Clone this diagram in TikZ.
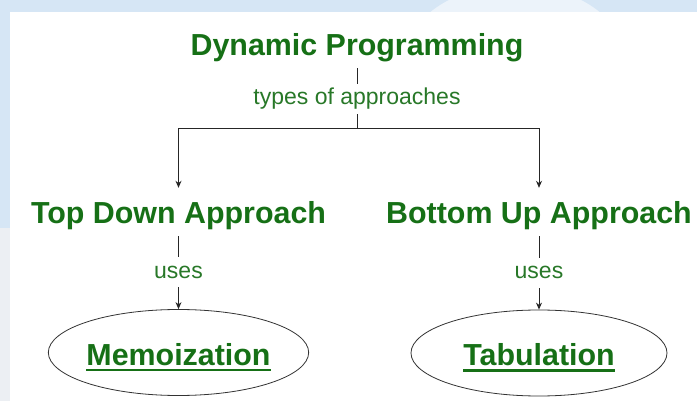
\documentclass[tikz,border=0pt]{standalone}
\usepackage{fontspec}
\setmainfont{Liberation Sans}
\usetikzlibrary{arrows.meta,shapes.geometric}
\definecolor{dpgreen}{RGB}{22,112,22}
\definecolor{lblgreen}{RGB}{40,120,40}
\definecolor{bgblue}{RGB}{214,230,245}
\definecolor{bggray}{RGB}{236,239,243}
\definecolor{bgblob}{RGB}{236,243,250}
\newcommand{\ulbox}[1]{\leavevmode\setbox0\hbox{#1}\rlap{\rule[-6pt]{\wd0}{2.2pt}}\box0}
\begin{document}
\begin{tikzpicture}[x=1pt,y=-1pt,
  heading/.style={font=\fontsize{30.4}{36}\selectfont\bfseries, text=dpgreen, text height=22pt, text depth=6pt, inner xsep=0pt, inner ysep=6pt, anchor=base},
  edgelabel/.style={font=\fontsize{23}{28}\selectfont, text=lblgreen, text height=17pt, text depth=5pt, inner xsep=0pt, inner ysep=4pt, anchor=base},
  method/.style={ellipse, draw=black!80, line width=0.8pt, minimum width=256pt, minimum height=86pt, font=\fontsize{30.4}{36}\selectfont\bfseries, text=dpgreen, text height=30pt, text depth=5pt, inner sep=0pt},
  conn/.style={draw=black!85, line width=0.9pt},
  arr/.style={conn, -{Stealth[length=7pt,width=6pt]}}
]
\useasboundingbox (0,0) rectangle (697,401);
% background
\fill[bgblue] (0,0) rectangle (697,401);
\fill[bgblob] (515,60) ellipse (110 and 75);
\fill[bggray] (0,228) rectangle (10,401);
\fill[white] (10,12) rectangle (697,401);
% nodes
\node[heading] (dp) at (357,56) {Dynamic Programming};
\node[edgelabel] (types) at (357,105) {types of approaches};
\coordinate (br) at (357,128);
\node[heading] (td) at (178.5,224) {Top Down Approach};
\node[heading] (bu) at (539,224) {Bottom Up Approach};
\node[edgelabel] (tduses) at (178.5,278) {uses};
\node[edgelabel] (buuses) at (539,279) {uses};
\node[method] (memo) at (178.5,352.5) {\ulbox{Memoization}};
\node[method] (tab) at (539,353) {\ulbox{Tabulation}};
% connectors
\draw[conn] (dp) -- (types);
\draw[conn] (types) -- (br);
\draw[arr, shorten >=8pt] (br) -| (td.north);
\draw[arr, shorten >=8pt] (br) -| (bu.north);
\draw[conn] (td) -- (tduses);
\draw[arr] (tduses) -- (memo);
\draw[conn] (bu) -- (buuses);
\draw[arr] (buuses) -- (tab);
\end{tikzpicture}
\end{document}
